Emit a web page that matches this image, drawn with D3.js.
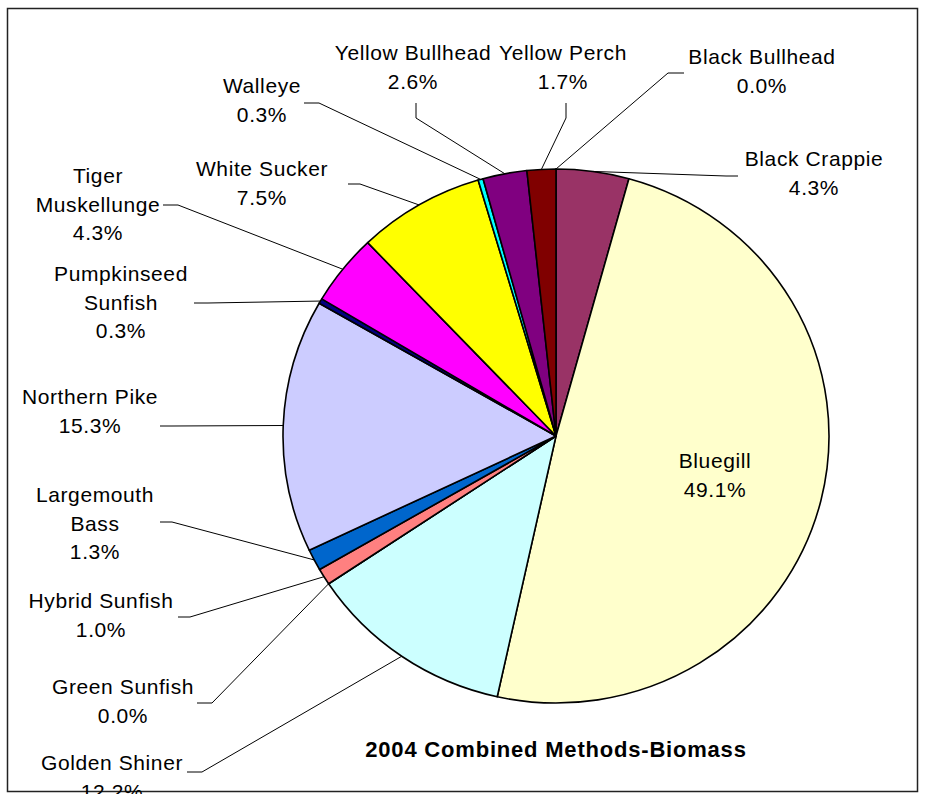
<!DOCTYPE html>
<html><head><meta charset="utf-8">
<script src="https://cdn.jsdelivr.net/npm/d3@7"></script>
<style>
html,body{margin:0;padding:0;background:#fff;}
text{font-family:"Liberation Sans",Arial,sans-serif;}
</style></head>
<body>
<svg id="chart" width="925" height="794"></svg>
<script>
// ---- data ----
const species = ["Black Bullhead","Black Crappie","Bluegill","Golden Shiner","Green Sunfish","Hybrid Sunfish","Largemouth Bass","Northern Pike","Pumpkinseed Sunfish","Tiger Muskellunge","White Sucker","Walleye","Yellow Bullhead","Yellow Perch"];
const percents = [0.0, 4.3, 49.1, 12.2, 0.0, 1.0, 1.3, 15.3, 0.3, 4.3, 7.5, 0.3, 2.6, 1.7];
const colors = ["#9999FF","#993366","#FFFFCC","#CCFFFF","#660066","#FF8080","#0066CC","#CCCCFF","#000080","#FF00FF","#FFFF00","#00FFFF","#800080","#800000"];
const labelLines = [["Black Bullhead"],["Black Crappie"],["Bluegill"],["Golden Shiner"],["Green Sunfish"],["Hybrid Sunfish"],["Largemouth","Bass"],["Northern Pike"],["Pumpkinseed","Sunfish"],["Tiger","Muskellunge"],["White Sucker"],["Walleye"],["Yellow Bullhead"],["Yellow Perch"]];
const title = "2004 Combined Methods-Biomass";

// ---- layout (label placement) ----
const labelPos = [
  {x:762,y:57, lead:[[684,73],[668,73]]},
  {x:814,y:159, lead:[[738,176],[726,176]]},
  {x:715,y:461, lead:null},
  {x:112,y:763, lead:[[187,772],[202,772]]},
  {x:123,y:687, lead:[[197,703],[212,703]]},
  {x:101,y:601, lead:[[178,617],[190,617]]},
  {x:95,y:495, lead:[[160,522],[172,522]]},
  {x:90,y:397, lead:[[160,426],[172,426]]},
  {x:121,y:274, lead:[[194,303],[208,303]]},
  {x:98,y:176, lead:[[163,205],[178,205]]},
  {x:262,y:169, lead:[[348,184],[360,184]]},
  {x:262,y:86, lead:[[304,103],[319,103]]},
  {x:413,y:53, lead:[[416,103],[416,118]]},
  {x:563,y:53, lead:[[566,103],[566,118]]}
];

const W=925,H=794, cx=556, cy=436, rx=273, ry=267;
const svg=d3.select("#chart");
svg.append("rect").attr("x",7.5).attr("y",8.5).attr("width",910).attr("height",783)
  .attr("fill","#fff").attr("stroke","#222").attr("stroke-width",1.5);

const data = species.map((s,i)=>({name:s,value:percents[i],color:colors[i],lines:labelLines[i],pos:labelPos[i]}));
const pie=d3.pie().value(d=>d.value).sort(null).startAngle(0).endAngle(2*Math.PI);
const arcs=pie(data);
const arc=d3.arc().innerRadius(0).outerRadius(rx);
const edge=d3.arc().innerRadius(rx).outerRadius(rx);
const sy=ry/rx;

const g=svg.append("g").attr("transform",`translate(${cx},${cy}) scale(1,${sy})`);
g.selectAll("path").data(arcs).join("path")
  .attr("d",arc).attr("fill",d=>d.data.color)
  .attr("stroke","#000").attr("stroke-width",1.6).attr("stroke-linejoin","round")
  .attr("vector-effect","non-scaling-stroke");

// leader lines
const line=d3.line();
arcs.forEach(a=>{
  const p=a.data.pos;
  if(!p.lead) return;
  const c=edge.centroid(a);
  const ex=cx+c[0], ey=cy+c[1]*sy;
  svg.append("path").attr("d",line([...p.lead,[ex,ey]]))
    .attr("fill","none").attr("stroke","#000").attr("stroke-width",1);
});

// labels
const fs=21, lh=28.5;
arcs.forEach(a=>{
  const p=a.data.pos;
  const lines=[...a.data.lines, a.data.value.toFixed(1)+"%"];
  const t=svg.append("text").attr("text-anchor","middle").attr("font-size",fs)
    .attr("letter-spacing","0.6px").attr("fill","#000");
  lines.forEach((l,k)=>{
    t.append("tspan").attr("x",p.x).attr("y",p.y+k*lh).attr("dy","0.35em").text(l);
  });
});

svg.append("text").attr("x",556).attr("y",749).attr("dy","0.35em").attr("text-anchor","middle")
  .attr("font-size",22).attr("letter-spacing","0.8px").attr("font-weight","bold").text(title);
</script>
</body></html>
